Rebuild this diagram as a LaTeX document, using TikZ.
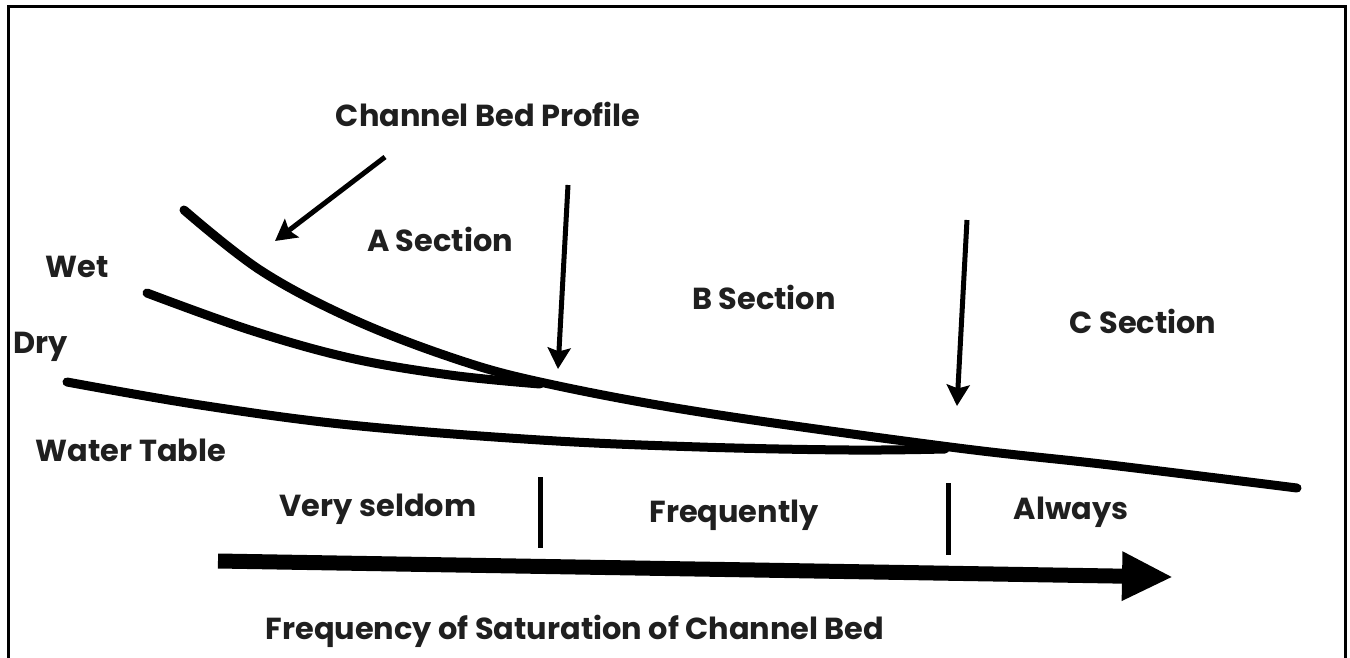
\documentclass[tikz,border=0pt]{standalone}
\usepackage{fontspec}
\setmainfont{Poppins}
\usetikzlibrary{arrows.meta}
\tikzset{
  x=0.02cm, y=-0.02cm,
  lbl/.style={font=\fontsize{17.3}{20}\selectfont\bfseries, text=black!88, inner sep=0pt},
  curve/.style={line width=9*0.02cm, line cap=round, line join=round},
  pointer/.style={line width=5*0.02cm, -{Stealth[length=12pt,width=13pt,inset=2pt]}},
  tick/.style={line width=5*0.02cm},
  bigarrow/.style={line width=15*0.02cm, -{Triangle[length=29pt,width=26pt]}},
}
\begin{document}
\begin{tikzpicture}
\useasboundingbox (0,0) rectangle (1350,657);
\clip (0,0) rectangle (1350,657);
% frame
\draw[line width=3*0.02cm] (8,700) -- (8,6) -- (1345,6) -- (1345,700);

% labels
\node[lbl] (cbp) at (488,114) {Channel Bed Profile};
\node[lbl] (asec) at (440,239) {A Section};
\node[lbl] (bsec) at (764,297) {B Section};
\node[lbl] (csec) at (1143,321) {C Section};
\node[lbl] (wet) at (77,267) {Wet};
\node[lbl] (dry) at (41,347) {Dry};
\node[lbl] (wt) at (131,450) {Water Table};
\node[lbl] (vs) at (378,509) {Very seldom};
\node[lbl] (fq) at (734,515) {Frequently};
\node[lbl] (al) at (1071,512) {Always};
\node[lbl] (fs) at (575,631) {Frequency of Saturation of Channel Bed};

% curves
\draw[curve] plot[smooth, tension=0.6] coordinates {(184,210) (260,270) (350,318) (450,357) (540,382) (700,412) (950,447) (1110,465) (1297,488)};
\draw[curve] plot[smooth, tension=0.6] coordinates {(147,293) (250,330) (350,358) (450,375) (540,384)};
\draw[curve] plot[smooth, tension=0.6] coordinates {(67,382) (200,405) (350,425) (540,440) (700,447) (850,450) (945,449)};

% pointers
\coordinate (p1s) at (385,157);
\coordinate (p1e) at (275,241);
\draw[pointer] (p1s) -- (p1e);
\coordinate (p2s) at (568,185);
\coordinate (p2e) at (558,369);
\draw[pointer] (p2s) -- (p2e);
\coordinate (p3s) at (967,220);
\coordinate (p3e) at (957,406);
\draw[pointer] (p3s) -- (p3e);

% ticks
\coordinate (t1a) at (540,477);
\coordinate (t1b) at (540,548);
\draw[tick] (t1a) -- (t1b);
\coordinate (t2a) at (948,483);
\coordinate (t2b) at (948,555);
\draw[tick] (t2a) -- (t2b);

% big arrow
\coordinate (ba) at (218,561);
\coordinate (bb) at (1173,577);
\draw[bigarrow] (ba) -- (bb);
\end{tikzpicture}
\end{document}
